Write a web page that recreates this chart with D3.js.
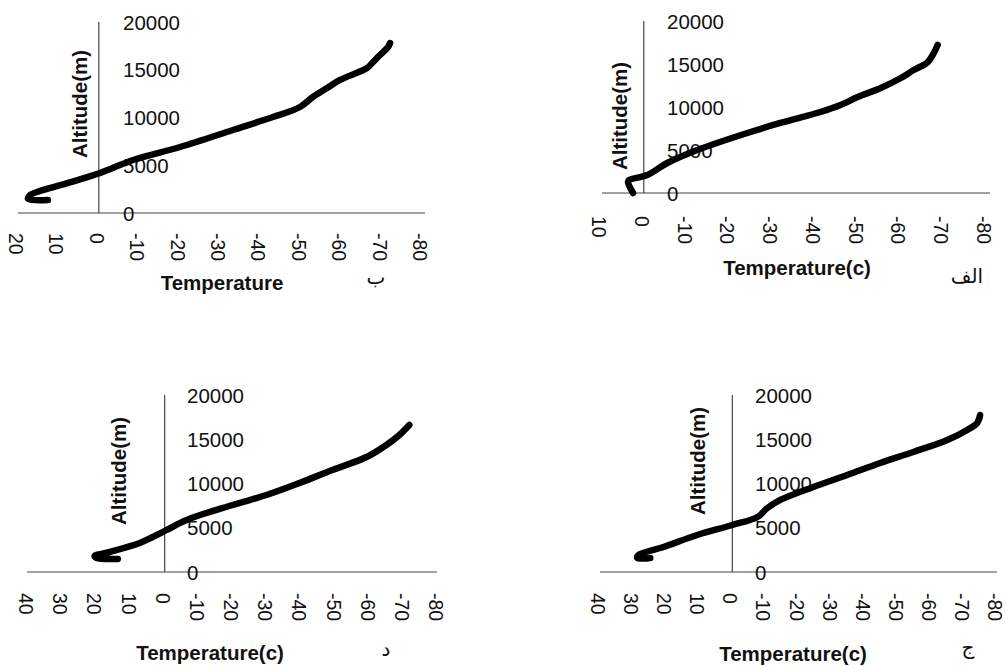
<!DOCTYPE html>
<html>
<head>
<meta charset="utf-8">
<script src="https://cdn.jsdelivr.net/npm/d3@7"></script>
<style>
  html, body { margin: 0; padding: 0; background: #fff; }
  svg { display: block; }
  text { font-family: "Liberation Sans", Arial, sans-serif; fill: #111; }
</style>
</head>
<body>
<svg id="chart" width="1006" height="666"></svg>
<script>
// ---------- data ----------
// Panel ب (top-left)
const tempB = [12.6, 17.5, 17.0, 8.0, -0.3, -8.5, -20.1, -33.2, -43.1, -49.8, -53.0, -56.5, -59.7, -66.4, -67.9, -69.6, -71.6, -72.1];
const altB  = [1360, 1470, 1880, 3100, 4190, 5550, 6910, 8690, 10050, 11100, 12150, 13090, 13930, 15180, 15810, 16550, 17380, 17800];
// Panel الف (top-right)
const tempAlef = [2.5, 3.7, 3.5, -0.8, -5.5, -12.5, -24.2, -31.9, -41.3, -46.0, -50.0, -55.4, -60.1, -63.1, -66.4, -67.8, -68.7];
const altAlef  = [0, 1280, 1500, 2090, 3490, 5000, 6980, 8140, 9420, 10230, 11160, 12210, 13370, 14300, 15230, 16280, 17210];
// Panel د (bottom-left)
const tempDal = [13.7, 19.9, 20.5, 16.1, 7.3, 3.5, -0.6, -6.4, -19.9, -29.8, -39.5, -49.1, -59.1, -64.9, -68.7, -71.6];
const altDal  = [1470, 1580, 1810, 2260, 3280, 3960, 4750, 5880, 7570, 8700, 10060, 11530, 12990, 14350, 15480, 16610];
// Panel ج (bottom-right)
const tempJim = [24.8, 28.7, 28.4, 20.8, 10.6, 0.0, -7.6, -10.6, -14.5, -24.5, -34.7, -44.7, -54.7, -65.0, -71.0, -74.0, -74.9];
const altJim  = [1580, 1580, 1920, 2830, 4180, 5310, 6220, 7230, 8140, 9610, 10960, 12320, 13560, 14920, 16050, 16840, 17740];

const xTicks20 = [20, 10, 0, -10, -20, -30, -40, -50, -60, -70, -80];
const xTicks10 = [10, 0, -10, -20, -30, -40, -50, -60, -70, -80];
const xTicks40 = [40, 30, 20, 10, 0, -10, -20, -30, -40, -50, -60, -70, -80];
const yTicks = [0, 5000, 10000, 15000, 20000];

const labelsPanel = ["ب", "الف", "د", "ج"];
const xTitles = ["Temperature", "Temperature(c)", "Temperature(c)", "Temperature(c)"];
const yTitle = "Altitude(m)";

// ---------- layout ----------
const svg = d3.select("#chart");

const panels = [
  { temp: tempB, alt: altB, ticks: xTicks20, xr: [18, 422], yr: [213, 22],
    axisX: [18, 425], yLabelX: 123, xLabGap: 20, xTitle: xTitles[0], xTitlePos: [222, 282],
    yTitlePos: [79, 104], tag: labelsPanel[0], tagPos: [376, 284] },
  { temp: tempAlef, alt: altAlef, ticks: xTicks10, xr: [601, 986], yr: [193, 21],
    axisX: [602, 990], yLabelX: 667, xLabGap: 23, xTitle: xTitles[1], xTitlePos: [797, 267],
    yTitlePos: [619, 116], tag: labelsPanel[1], tagPos: [967, 283] },
  { temp: tempDal, alt: altDal, ticks: xTicks40, xr: [28, 438], yr: [572, 395],
    axisX: [27, 437], yLabelX: 187, xLabGap: 21, xTitle: xTitles[2], xTitlePos: [210, 652],
    yTitlePos: [118, 471], tag: labelsPanel[2], tagPos: [386, 656] },
  { temp: tempJim, alt: altJim, ticks: xTicks40, xr: [600, 997], yr: [572, 395],
    axisX: [600, 997], yLabelX: 755, xLabGap: 21, xTitle: xTitles[3], xTitlePos: [793, 653],
    yTitlePos: [697, 461], tag: labelsPanel[3], tagPos: [968, 654] }
];

panels.forEach(p => {
  const dom = [p.ticks[0], p.ticks[p.ticks.length - 1]];
  const x = d3.scaleLinear().domain(dom).range(p.xr);
  const y = d3.scaleLinear().domain([0, 20000]).range(p.yr);
  const g = svg.append("g");

  // x axis line (crossing at altitude 0)
  g.append("line")
    .attr("x1", p.axisX[0]).attr("x2", p.axisX[1])
    .attr("y1", y(0)).attr("y2", y(0))
    .attr("stroke", "#444").attr("stroke-width", 1.2);
  // y axis line at temperature 0
  g.append("line")
    .attr("x1", x(0)).attr("x2", x(0))
    .attr("y1", y(0)).attr("y2", y(20000))
    .attr("stroke", "#444").attr("stroke-width", 1.2);

  // x tick labels (rotated)
  g.selectAll(".xl").data(p.ticks).enter().append("text")
    .attr("transform", d => `translate(${x(d) - 2},${y(0) + p.xLabGap}) rotate(90)`)
    .attr("text-anchor", "start")
    .attr("dominant-baseline", "central")
    .attr("font-size", 19.5)
    .text(d => d);

  // y tick labels
  g.selectAll(".yl").data(yTicks).enter().append("text")
    .attr("x", p.yLabelX)
    .attr("y", d => y(d))
    .attr("dominant-baseline", "central")
    .attr("font-size", 20.5)
    .text(d => d);

  // titles
  g.append("text")
    .attr("x", p.xTitlePos[0]).attr("y", p.xTitlePos[1])
    .attr("text-anchor", "middle").attr("dominant-baseline", "central")
    .attr("font-size", 20.5).attr("font-weight", "bold")
    .text(p.xTitle);
  g.append("text")
    .attr("transform", `translate(${p.yTitlePos[0]},${p.yTitlePos[1]}) rotate(-90)`)
    .attr("text-anchor", "middle").attr("dominant-baseline", "central")
    .attr("font-size", 20.5).attr("font-weight", "bold")
    .text(yTitle);

  // panel tag (Arabic letter)
  g.append("text")
    .attr("x", p.tagPos[0]).attr("y", p.tagPos[1])
    .attr("text-anchor", "middle")
    .attr("font-size", 20)
    .style("font-family", "'Noto Sans', 'DejaVu Sans', sans-serif")
    .text(p.tag);

  // profile line
  const pts = p.temp.map((t, i) => [t, p.alt[i]]);
  g.append("path")
    .datum(pts)
    .attr("fill", "none")
    .attr("stroke", "#000")
    .attr("stroke-width", 6.5)
    .attr("stroke-linecap", "round")
    .attr("stroke-linejoin", "round")
    .attr("d", d3.line().x(d => x(d[0])).y(d => y(d[1])).curve(d3.curveCatmullRom.alpha(0.5)));
});
</script>
</body>
</html>
